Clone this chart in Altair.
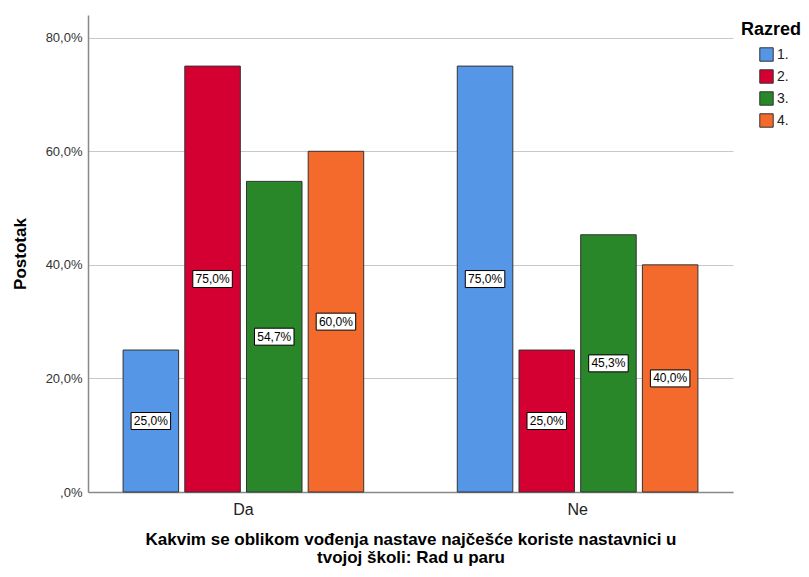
import altair as alt
import pandas as pd

categories = ["Da", "Ne"]
grades = ["1.", "2.", "3.", "4."]
values_da = [25.0, 75.0, 54.7, 60.0]
values_ne = [75.0, 25.0, 45.3, 40.0]
colors = ["#5596E6", "#D50032", "#29872A", "#F36A2C"]

rows = []
for g, v in zip(grades, values_da):
    rows.append({"cat": "Da", "grade": g, "value": v})
for g, v in zip(grades, values_ne):
    rows.append({"cat": "Ne", "grade": g, "value": v})
df = pd.DataFrame(rows)
df["mid"] = df["value"] / 2
df["label"] = df["value"].map(lambda v: f"{v:.1f}".replace(".", ",") + "%")

FONT = "Liberation Sans"

x_enc = alt.X("cat:N", sort=categories,
              scale=alt.Scale(paddingInner=0.28, paddingOuter=0.105),
              axis=alt.Axis(title=["Kakvim se oblikom vođenja nastave najčešće koriste nastavnici u",
                                   "tvojoj školi: Rad u paru"],
                            labelAngle=0, labelFontSize=16, labelColor="#222",
                            labelFont=FONT, titleFont=FONT, titleFontSize=17,
                            titleFontWeight="bold", titleColor="#000",
                            titlePadding=14, labelPadding=9, titleLineHeight=18,
                            ticks=False, domainColor="#888", domainWidth=1.5))
xo = alt.XOffset("grade:N", sort=grades, scale=alt.Scale(paddingInner=0.1, paddingOuter=0))
y_scale = alt.Scale(domain=[0, 84], nice=False)

bars = alt.Chart(df).mark_bar(stroke="#333", strokeWidth=1).encode(
    x=x_enc,
    xOffset=xo,
    y=alt.Y("value:Q", scale=y_scale,
            axis=alt.Axis(title="Postotak", values=[0, 20, 40, 60, 80],
                          labelExpr="datum.value == 0 ? ',0%' : replace(format(datum.value, '.1f'), '.', ',') + '%'",
                          labelFont=FONT, labelFontSize=13, labelColor="#333",
                          titleFont=FONT, titleFontSize=17, titleFontWeight="bold",
                          titleColor="#000", titlePadding=16, labelPadding=6,
                          ticks=False, domainColor="#888", domainWidth=1.5,
                          grid=True, gridColor="#c8c8c8", gridWidth=1)),
    color=alt.Color("grade:N", sort=grades,
                    scale=alt.Scale(domain=grades, range=colors),
                    legend=alt.Legend(title="Razred", titleFont=FONT, titleFontSize=18,
                                      titleFontWeight="bold", titleColor="#000",
                                      labelFont=FONT, labelFontSize=14, labelColor="#222",
                                      symbolType="square", symbolSize=180,
                                      symbolStrokeColor="#333", symbolStrokeWidth=1,
                                      symbolOffset=18, labelOffset=3,
                                      rowPadding=3, titlePadding=8,
                                      orient="none", legendX=653, legendY=6,
                                      padding=0)),
)

boxes = alt.Chart(df).mark_point(
    shape="M-1,-0.43 L1,-0.43 L1,0.43 L-1,0.43 Z",
    size=1560, filled=True, fill="white", stroke="#000", strokeWidth=1, opacity=1
).encode(
    x=alt.X("cat:N", sort=categories),
    xOffset=xo,
    y=alt.Y("mid:Q", scale=y_scale),
)

texts = alt.Chart(df).mark_text(font=FONT, fontSize=12, color="#000").encode(
    x=alt.X("cat:N", sort=categories),
    xOffset=xo,
    y=alt.Y("mid:Q", scale=y_scale),
    text="label:N",
)

chart = alt.layer(bars, boxes, texts).properties(
    width=645, height=477,
    autosize="none",
    padding={"left": 80, "top": 7, "right": 68, "bottom": 77},
).configure_view(stroke=None)

chart.save("out.html", embed_options={"renderer": "svg", "actions": False})
